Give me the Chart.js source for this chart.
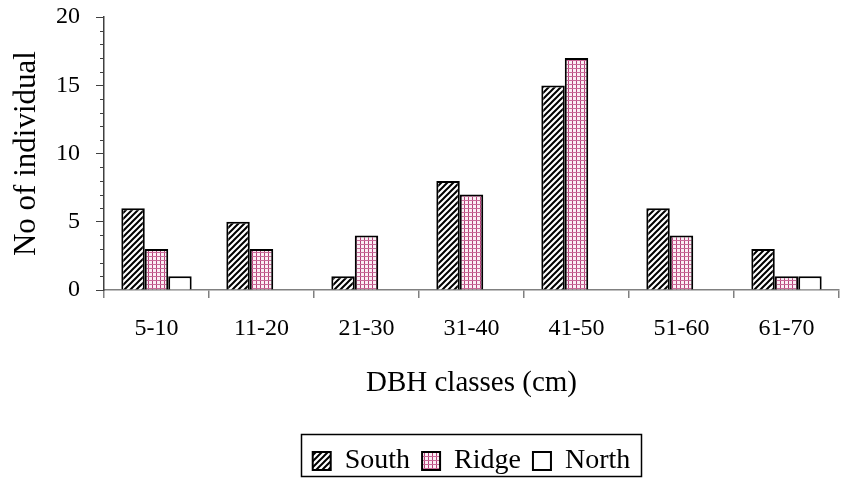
<!DOCTYPE html>
<html>
<head>
<meta charset="utf-8">
<script src="https://cdn.jsdelivr.net/npm/chart.js@4.4.1/dist/chart.umd.min.js"></script>
<style>
html,body{margin:0;padding:0;background:#fff;}
#wrap{width:841px;height:485px;position:relative;}
</style>
</head>
<body>
<div id="wrap"><canvas id="c" width="841" height="485"></canvas></div>
<script>
const categories = ['5-10','11-20','21-30','31-40','41-50','51-60','61-70'];
const south = [6,5,1,8,15,6,3];
const ridge = [3,3,4,7,17,4,1];
const north = [1,0,0,0,0,0,1];
const seriesNames = ['South','Ridge','North'];
const yMax = 20;
const yMajorStep = 5;
const yMinorStep = 1;

function hatchPattern(){
  const s = 6;
  const cv = document.createElement('canvas');
  cv.width = s; cv.height = s;
  const g = cv.getContext('2d');
  g.fillStyle = '#fff'; g.fillRect(0,0,s,s);
  g.strokeStyle = '#000'; g.lineWidth = 2;
  g.beginPath();
  g.moveTo(-1, s+1); g.lineTo(s+1, -1);
  g.moveTo(-1-s/2, s/2+1); g.lineTo(s/2+1, -1-s/2);
  g.moveTo(s/2-1, s*1.5+1); g.lineTo(s*1.5+1, s/2-1);
  g.stroke();
  return g.createPattern(cv,'repeat');
}
function gridPattern(){
  const s = 4;
  const cv = document.createElement('canvas');
  cv.width = s; cv.height = s;
  const g = cv.getContext('2d');
  g.fillStyle = '#fbeef4'; g.fillRect(0,0,s,s);
  g.fillStyle = '#b5407a';
  g.fillRect(0,0,1,s);
  g.fillStyle = '#c86a98';
  g.fillRect(0,0,s,1);
  return g.createPattern(cv,'repeat');
}

const FONT = "'Liberation Serif', 'Times New Roman', serif";

const minorTicks = {
  id:'minorTicks',
  afterDraw(chart){
    const y = chart.scales.y;
    const ctx = chart.ctx;
    ctx.save();
    ctx.strokeStyle = '#404040';
    ctx.lineWidth = 1;
    for(let v=0; v<=yMax; v+=yMinorStep){
      if(v % yMajorStep === 0) continue;
      const py = Math.round(y.getPixelForValue(v)) + 0.5;
      ctx.beginPath();
      ctx.moveTo(y.right - 4, py);
      ctx.lineTo(y.right, py);
      ctx.stroke();
    }
    ctx.restore();
  }
};
const legendShift = {
  id:'legendShift',
  afterUpdate(chart){
    const lg = chart.legend;
    if(!lg) return;
    const ca = chart.chartArea;
    const dx = (ca.left + ca.right)/2 - (lg.left + lg.right)/2;
    lg.left += dx; lg.right += dx;
    (lg.legendHitBoxes||[]).forEach(h => { h.left += dx; });
  }
};
const legendBorder = {
  id:'legendBorder',
  afterDraw(chart){
    const hb = chart.legend && chart.legend.legendHitBoxes;
    if(!hb || !hb.length) return;
    const ctx = chart.ctx;
    const first = hb[0], last = hb[hb.length-1];
    const l = first.left - 12, r = last.left + last.width + 10;
    const t = first.top - 13, b = first.top + 29;
    ctx.save();
    ctx.strokeStyle = '#000';
    ctx.lineWidth = 1.5;
    ctx.strokeRect(Math.round(l)+0.5, Math.round(t)+0.5, Math.round(r-l), Math.round(b-t));
    ctx.restore();
  }
};

new Chart(document.getElementById('c'), {
  type:'bar',
  data:{
    labels: categories,
    datasets:[
      {label:seriesNames[0], data:south, backgroundColor:hatchPattern(), borderColor:'#000', borderWidth:2},
      {label:seriesNames[1], data:ridge, backgroundColor:gridPattern(), borderColor:'#000', borderWidth:2},
      {label:seriesNames[2], data:north, backgroundColor:'#fff', borderColor:'#000', borderWidth:2}
    ]
  },
  options:{
    responsive:false,
    animation:false,
    devicePixelRatio:1,
    layout:{padding:{top:8,right:2,left:0,bottom:0}},
    datasets:{bar:{categoryPercentage:0.67, barPercentage:1.0}},
    plugins:{
      tooltip:{enabled:false},
      legend:{
        display:true,
        position:'bottom',
        labels:{
          font:{family:FONT,size:28},
          color:'#000',
          boxWidth:18, boxHeight:18,
          padding:12
        }
      }
    },
    scales:{
      x:{
        offset:true,
        grid:{offset:true, drawOnChartArea:false, tickLength:8, color:'#808080', lineWidth:1.5},
        border:{color:'#808080', width:1.5},
        ticks:{font:{family:FONT,size:24}, color:'#000', padding:16, maxRotation:0},
        title:{display:true, text:'DBH classes (cm)', font:{family:FONT,size:29}, color:'#000', padding:{top:0,bottom:34}},
        afterFit(s){ s.height = 145; }
      },
      y:{
        min:0, max:yMax,
        grid:{drawOnChartArea:false, tickLength:8, color:'#404040', lineWidth:1},
        border:{color:'#404040', width:1.5},
        ticks:{stepSize:yMajorStep, font:{family:FONT,size:24,lineHeight:0.1}, color:'#000', padding:16},
        title:{display:true, text:'No of individual', font:{family:FONT,size:31}, color:'#000', padding:{top:8,bottom:0}},
        afterFit(s){ s.width = 104; }
      }
    }
  },
  plugins:[legendShift, minorTicks, legendBorder]
});
</script>
</body>
</html>
